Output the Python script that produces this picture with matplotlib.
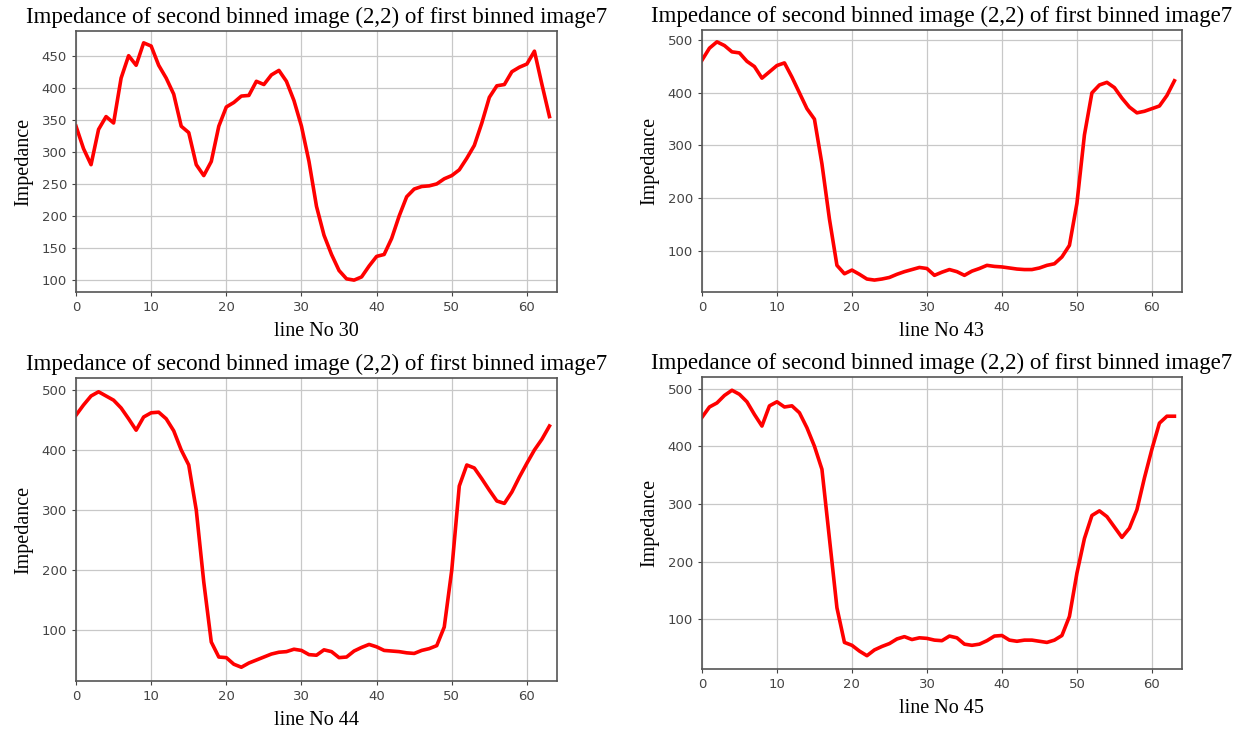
import matplotlib
matplotlib.use("Agg")
import matplotlib.pyplot as plt
import numpy as np

x = np.arange(64)

line_no = [30, 43, 44, 45]

imp_30 = [340, 305, 280, 335, 355, 345, 415, 450, 435, 470, 465, 435, 415, 390, 340, 330,
          280, 263, 285, 340, 370, 377, 387, 388, 410, 405, 420, 427, 410, 380, 340, 285,
          215, 170, 140, 115, 102, 100, 105, 122, 137, 140, 165, 200, 230, 242, 246, 247,
          250, 258, 263, 272, 290, 310, 345, 385, 403, 405, 425, 432, 437, 457, 405, 355]

imp_43 = [462, 485, 497, 490, 478, 476, 460, 450, 428, 440, 452, 457, 430, 400, 370, 350,
          265, 160, 72, 56, 63, 55, 46, 44, 46, 49, 55, 60, 64, 68, 66, 53,
          59, 64, 60, 53, 61, 66, 72, 70, 69, 67, 65, 64, 64, 67, 72, 75,
          88, 110, 190, 320, 400, 415, 420, 410, 390, 373, 362, 365, 370, 375, 395, 423]

imp_44 = [458, 475, 490, 497, 490, 483, 470, 452, 433, 455, 462, 463, 452, 432, 400, 375,
          300, 180, 80, 55, 54, 43, 38, 45, 50, 55, 60, 63, 64, 68, 66, 59,
          58, 67, 64, 54, 55, 65, 71, 76, 72, 66, 65, 64, 62, 61, 66, 69,
          74, 105, 200, 340, 375, 370, 352, 333, 315, 311, 330, 355, 378, 400, 418, 440]

imp_45 = [450, 468, 475, 488, 497, 490, 477, 455, 435, 470, 477, 468, 470, 458, 432, 400,
          360, 240, 120, 60, 55, 45, 37, 47, 53, 58, 66, 70, 65, 68, 67, 64,
          63, 71, 68, 57, 55, 57, 63, 71, 72, 64, 62, 64, 64, 62, 60, 64,
          72, 105, 180, 240, 280, 288, 278, 260, 242, 258, 290, 345, 395, 440, 452, 452]

series = [imp_30, imp_43, imp_44, imp_45]

title = "Impedance of second binned image (2,2) of first binned image7"

boxes = [
    [0.0614, 0.6022, 0.3885, 0.3556],
    [0.5670, 0.6022, 0.3877, 0.3570],
    [0.0614, 0.0722, 0.3885, 0.4128],
    [0.5670, 0.0886, 0.3877, 0.3978],
]

fig = plt.figure(figsize=(12.38, 7.34), dpi=100)

for box, y, n in zip(boxes, series, line_no):
    ax = fig.add_axes(box)
    ax.plot(x, y, color="red", linewidth=2.6)
    ax.set_xlim(0, 64)
    ax.grid(True, color="#c8c8c8", linewidth=0.9)
    ax.set_title(title, fontfamily="Liberation Serif", fontsize=16.5, pad=6)
    ax.set_xlabel("line No %d" % n, fontfamily="Liberation Serif", fontsize=14.5, labelpad=6)
    ax.set_ylabel("Impedance", fontfamily="Liberation Serif", fontsize=14.5, labelpad=6)
    ax.tick_params(labelsize=9.5, labelcolor="#444444", color="#444444", length=3)
    for s in ax.spines.values():
        s.set_color("#555555")
        s.set_linewidth(1.2)

fig.savefig("out.png", dpi=100)
